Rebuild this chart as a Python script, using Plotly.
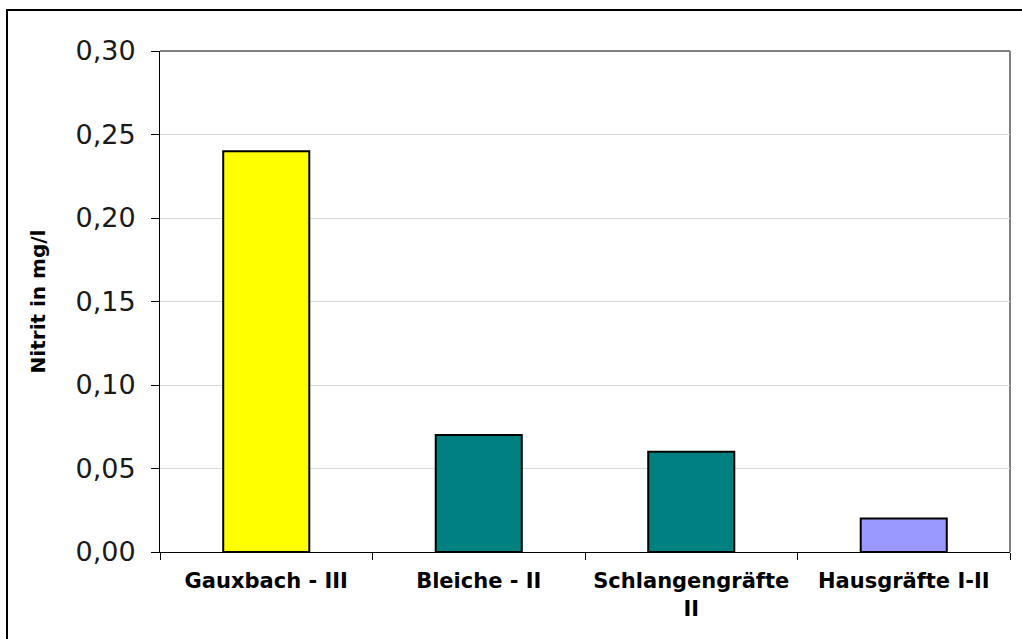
import plotly.graph_objects as go

# Nitrite measurements per water body (with water quality class)
categories = ["Gauxbach - III", "Bleiche - II", "Schlangengräfte<br>II", "Hausgräfte I-II"]
nitrite_mg_l = [0.24, 0.07, 0.06, 0.02]
bar_colors = ["#FFFF00", "#008080", "#008080", "#9999FF"]
y_ticks = [0.00, 0.05, 0.10, 0.15, 0.20, 0.25, 0.30]
y_title = "Nitrit in mg/l"

FONT = "DejaVu Sans"

fig = go.Figure(
    go.Bar(
        x=categories,
        y=nitrite_mg_l,
        marker=dict(color=bar_colors, line=dict(color="#000000", width=2)),
        hoverinfo="x+y",
    )
)

fig.update_layout(
    width=1022,
    height=639,
    margin=dict(l=160, r=12, t=51, b=87),
    paper_bgcolor="#FFFFFF",
    plot_bgcolor="#FFFFFF",
    separators=",.",
    bargap=0.595,
    showlegend=False,
    font=dict(family=FONT, color="#000000"),
)

fig.update_xaxes(
    type="category",
    tickson="boundaries",
    ticks="outside",
    ticklen=7,
    tickwidth=1,
    tickcolor="#000000",
    showline=True,
    linecolor="#000000",
    linewidth=1,
    showgrid=False,
    ticklabelstandoff=10,
    tickfont=dict(family=FONT, size=21, color="#000000", weight="bold"),
)

fig.update_yaxes(
    range=[0, 0.30],
    tickvals=y_ticks,
    tickformat=".2f",
    ticks="outside",
    ticklen=8,
    tickwidth=1,
    tickcolor="#000000",
    showline=True,
    linecolor="#000000",
    linewidth=1,
    showgrid=True,
    gridcolor="#D9D9D9",
    gridwidth=1,
    zeroline=False,
    ticklabelstandoff=10,
    tickfont=dict(family=FONT, size=27, color="#1a1a1a"),
    title=dict(text=y_title, font=dict(family=FONT, size=20, color="#000000", weight="bold"), standoff=24),
)

# Gray frame on the top and right of the plot area
fig.add_shape(type="line", xref="paper", yref="paper", x0=0, x1=1, y0=1, y1=1,
              line=dict(color="#808080", width=2), layer="below")
fig.add_shape(type="line", xref="paper", yref="paper", x0=1, x1=1, y0=0, y1=1,
              line=dict(color="#808080", width=2), layer="below")

# Outer chart border
fig.add_shape(type="rect", xref="paper", yref="paper",
              x0=-0.18, x1=1.03, y0=-0.2, y1=1.0818,
              line=dict(color="#000000", width=2), fillcolor="rgba(0,0,0,0)", layer="above")

fig.write_html("out.html")
